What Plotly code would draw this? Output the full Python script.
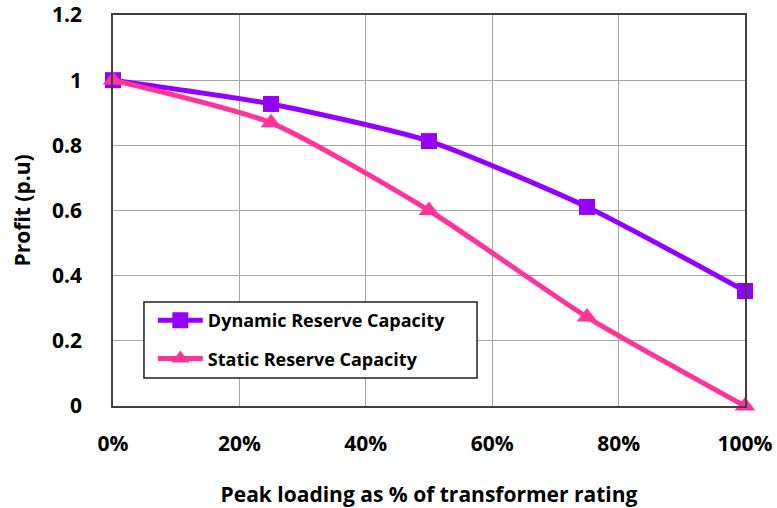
import plotly.graph_objects as go

loading = [0.0, 0.25, 0.5, 0.75, 1.0]
dynamic = [1.0, 0.927, 0.813, 0.611, 0.353]
static = [1.0, 0.869, 0.600, 0.273, 0.0]
names = ["Dynamic Reserve Capacity", "Static Reserve Capacity"]
x_ticks = [0, 0.2, 0.4, 0.6, 0.8, 1.0]
x_labels = ["0%", "20%", "40%", "60%", "80%", "100%"]
y_ticks = [0, 0.2, 0.4, 0.6, 0.8, 1.0, 1.2]
y_labels = ["0", "0.2", "0.4", "0.6", "0.8", "1", "1.2"]

FONT = "Open Sans"

fig = go.Figure()
fig.add_trace(go.Scatter(x=loading, y=dynamic, name=names[0], mode="lines+markers",
                         legendgroup="a",
                         line=dict(color="#9400FF", width=5, shape="spline", smoothing=0.6),
                         marker=dict(symbol="square", size=16, color="#9400FF"),
                         cliponaxis=False))
fig.add_trace(go.Scatter(x=loading, y=static, name=names[1], mode="lines+markers",
                         legendgroup="b",
                         line=dict(color="#FF3399", width=5, shape="spline", smoothing=0.6),
                         marker=dict(symbol="triangle-up", size=18, color="#FF3399"),
                         cliponaxis=False))

# legend frame
fig.add_shape(type="rect", xref="paper", yref="paper",
              x0=0.049, x1=0.576, y0=0.0716, y1=0.266,
              line=dict(color="#202020", width=1.5), fillcolor="white", layer="above")

fig.update_layout(
    width=777, height=508,
    margin=dict(l=113, r=32, t=15, b=102),
    paper_bgcolor="white", plot_bgcolor="white",
    font=dict(family=FONT, color="black", size=16),
    showlegend=True,
    legend=dict(x=0.063, y=0.266, xanchor="left", yanchor="top",
                borderwidth=0, bgcolor="rgba(0,0,0,0)",
                font=dict(family=FONT, size=18, color="black", weight="bold"),
                itemwidth=45, tracegroupgap=12, traceorder="grouped"),
    xaxis=dict(range=[0, 1], tickvals=x_ticks, ticktext=x_labels, automargin=False,
               ticklabeloverflow="allow",
               showgrid=True, gridcolor="#A6A6A6", gridwidth=1.3,
               showline=True, linecolor="#404040", linewidth=1.5, mirror=True,
               ticks="", ticklabelstandoff=18, zeroline=False,
               tickfont=dict(family=FONT, size=21, color="black", weight="bold"),
               title=dict(text="Peak loading as % of transformer rating", standoff=31,
                          font=dict(family=FONT, size=21, color="black", weight="bold"))),
    yaxis=dict(range=[0, 1.2], tickvals=y_ticks, ticktext=y_labels, automargin=False,
               ticklabeloverflow="allow",
               showgrid=True, gridcolor="#A6A6A6", gridwidth=1.3,
               showline=True, linecolor="#404040", linewidth=1.5, mirror=True,
               ticks="", ticklabelstandoff=25, zeroline=False,
               tickfont=dict(family=FONT, size=21, color="black", weight="bold"),
               title=dict(text="Profit (p.u)", standoff=16,
                          font=dict(family=FONT, size=21, color="black", weight="bold"))),
)

fig.write_html("out.html", config={"displayModeBar": False},
               post_script="document.body.style.margin='0';document.body.style.overflow='hidden';")
